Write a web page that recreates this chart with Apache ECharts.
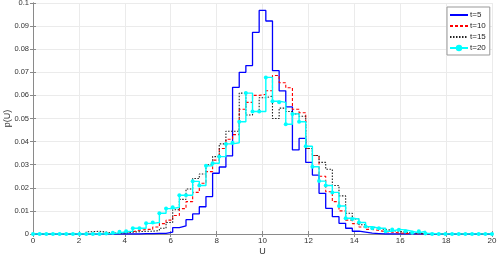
<!DOCTYPE html>
<html><head><meta charset="utf-8">
<script src="https://cdn.jsdelivr.net/npm/echarts@6/dist/echarts.min.js"></script>
<style>html,body{margin:0;padding:0;background:#fff}#c{width:498px;height:260px}</style>
</head><body><div id="c"></div>
<script>
// bin edges (U)
const binEdges = [0,0.290,0.580,0.870,1.159,1.449,1.739,2.029,2.319,2.609,
2.899,3.188,3.478,3.768,4.058,4.348,4.638,4.928,5.217,5.507,
5.797,6.087,6.377,6.667,6.957,7.246,7.536,7.826,8.116,8.406,
8.696,8.986,9.275,9.565,9.855,10.145,10.435,10.725,11.014,11.304,
11.594,11.884,12.174,12.464,12.754,13.043,13.333,13.623,13.913,14.203,
14.493,14.783,15.072,15.362,15.652,15.942,16.232,16.522,16.812,17.101,
17.391,17.681,17.971,18.261,18.551,18.841,19.130,19.420,19.710,20.000];

const seriesNames = ['t=5','t=10','t=15','t=20'];

const pT5 = [0,0,0,0,0,0,0,0,0,0, 0,0,0,0,0,0,0.0002,0.0002,0.0003,0.0003,
0.0008,0.0028,0.0035,0.0062,0.0087,0.0118,0.0162,0.0263,0.029,0.0338,
0.0635,0.070,0.0729,0.0873,0.0968,0.0922,0.0707,0.062,0.055,0.0364,
0.0414,0.031,0.0255,0.0176,0.0111,0.0075,0.0046,0.0025,0.0012,0.0008,
0.0004,0.0002,0,0,0,0,0,0,0,0, 0,0,0,0,0,0,0,0,0,0];

const pT10 = [0,0,0,0,0,0,0,0,0,0, 0,0.0003,0.0005,0.0008,0.001,0.0015,0.002,0.002,0.003,0.0045,
0.006,0.008,0.011,0.014,0.018,0.022,0.027,0.032,0.037,0.041,
0.043,0.054,0.057,0.060,0.0605,0.062,0.0686,0.0655,0.0633,0.054,
0.0525,0.037,0.034,0.025,0.0183,0.014,0.010,0.006,0.0045,0.003,
0.002,0.0015,0.001,0.0008,0.0005,0.0003,0,0,0,0, 0,0,0,0,0,0,0,0,0,0];

const pT15 = [0,0,0,0,0,0,0,0,0.001,0.0012, 0.0008,0.0003,0.0003,0.0005,0.0008,0.001,0.0012,0.0012,0.0015,0.0025,
0.005,0.0105,0.015,0.0195,0.024,0.026,0.030,0.0335,0.039,0.0445,
0.0445,0.061,0.0515,0.053,0.059,0.0597,0.050,0.0545,0.053,0.052,
0.051,0.037,0.034,0.031,0.028,0.021,0.0165,0.009,0.0065,0.004,
0.003,0.0025,0.002,0.0015,0.0012,0.0008,0.0005,0.0003,0,0, 0,0,0,0,0,0,0,0,0,0];

const pT20 = [0,0,0,0,0,0,0,0,0,0, 0,0.0002,0.0005,0.001,0.0012,0.0025,0.0025,0.0046,0.005,0.009,
0.011,0.0116,0.0168,0.0168,0.0228,0.021,0.0295,0.0306,0.0335,0.039,
0.0395,0.0486,0.061,0.053,0.053,0.0678,0.0575,0.057,0.0475,0.052,
0.0486,0.038,0.0291,0.0229,0.021,0.018,0.0121,0.0068,0.0065,0.005,
0.0032,0.0025,0.0025,0.0012,0.002,0.0018,0.0012,0.0005,0.0012,0.0002,
0,0,0,0,0,0,0,0,0,0];

const xTicks = [0,2,4,6,8,10,12,14,16,18,20];

function pairs(ys){ return binEdges.map((x,i)=>[x, ys[i]]); }

const FONT = '"Liberation Sans", Arial, sans-serif';
const chart = echarts.init(document.getElementById('c'), null, {renderer:'canvas'});
const axisCol = '#8a8a8a';
const gridCol = '#ebebeb';
const labelCol = '#333';

chart.setOption({
  animation:false,
  backgroundColor:'#fff',
  grid:{left:33, right:6, top:3, bottom:26, containLabel:false, outerBoundsMode:'none'},
  legend:{
    orient:'vertical', left:447, top:7,
    data:[
      {name:seriesNames[0], itemStyle:{opacity:0}},
      {name:seriesNames[1], itemStyle:{opacity:0}},
      {name:seriesNames[2], itemStyle:{opacity:0}},
      {name:seriesNames[3]}
    ],
    backgroundColor:'#fff', borderColor:'#999', borderWidth:1,
    padding:[3,4,2,2], itemWidth:18, itemHeight:8, itemGap:1,
    textStyle:{fontFamily:FONT, fontSize:8, color:'#222', padding:[0,0,0,-3], lineHeight:10}
  },
  xAxis:[{
    type:'value', min:xTicks[0], max:xTicks[xTicks.length-1], interval:2,
    name:'U', nameLocation:'middle', nameGap:13, nameMoveOverlap:false,
    nameTextStyle:{fontFamily:FONT, fontSize:9, color:labelCol},
    axisLine:{onZero:false, lineStyle:{color:axisCol, width:1}},
    axisTick:{inside:true, length:3, lineStyle:{color:axisCol}},
    axisLabel:{fontFamily:FONT, fontSize:8, color:labelCol, margin:3},
    splitLine:{show:true, lineStyle:{color:gridCol, width:1}}
  },{
    type:'value', position:'top', min:0, max:20, interval:2,
    axisLine:{show:true, lineStyle:{color:axisCol, width:1}},
    axisTick:{show:true, inside:true, length:3, lineStyle:{color:axisCol}},
    axisLabel:{show:false}, splitLine:{show:false}
  }],
  yAxis:[{
    type:'value', min:0, max:0.1, interval:0.01,
    name:'p(U)', nameLocation:'middle', nameGap:21, nameMoveOverlap:false,
    nameTextStyle:{fontFamily:FONT, fontSize:9, color:labelCol},
    axisLine:{show:true, onZero:false, lineStyle:{color:axisCol, width:1}},
    axisTick:{show:true, inside:true, length:3, lineStyle:{color:axisCol}},
    axisLabel:{fontFamily:FONT, fontSize:7.5, color:labelCol, margin:4,
      formatter:v=>String(+v.toFixed(2))},
    splitLine:{show:true, lineStyle:{color:gridCol, width:1}}
  },{
    type:'value', position:'right', min:0, max:0.1, interval:0.01,
    axisLine:{show:true, lineStyle:{color:axisCol, width:1}},
    axisTick:{show:true, inside:true, length:3, lineStyle:{color:axisCol}},
    axisLabel:{show:false}, splitLine:{show:false}
  }],
  series:[
    {name:seriesNames[0], type:'line', step:'end', data:pairs(pT5), showSymbol:false, symbol:'none',
     lineStyle:{color:'#0000ff', width:1.3}, itemStyle:{color:'#0000ff'}, z:2},
    {name:seriesNames[1], type:'line', step:'end', data:pairs(pT10), showSymbol:false, symbol:'none',
     lineStyle:{color:'#ff0000', width:1.1, type:[3,2]}, itemStyle:{color:'#ff0000'}, z:3},
    {name:seriesNames[2], type:'line', step:'end', data:pairs(pT15), showSymbol:false, symbol:'none',
     lineStyle:{color:'#222222', width:1.1, type:[1.5,1.5]}, itemStyle:{color:'#222222'}, z:4},
    {name:seriesNames[3], type:'line', step:'end', data:pairs(pT20), symbol:'circle', symbolSize:4, showSymbol:true,
     lineStyle:{color:'#00ffff', width:1.4}, itemStyle:{color:'#00ffff'}, z:5}
  ]
});
</script></body></html>
